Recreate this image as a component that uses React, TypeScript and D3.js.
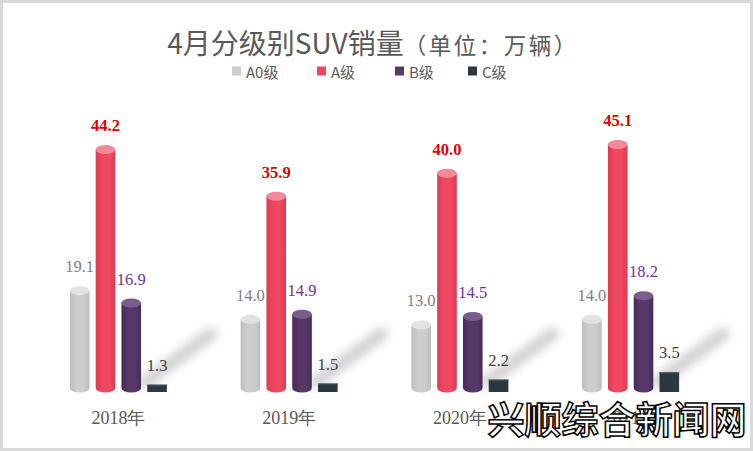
import React, { useLayoutEffect } from "react";
import * as d3 from "d3";

const years = ["2018年", "2019年", "2020年", "2021年"];
const seriesNames = ["A0级", "A级", "B级", "C级"];
const valuesA0 = [19.1, 14.0, 13.0, 14.0];
const valuesA = [44.2, 35.9, 40.0, 45.1];
const valuesB = [16.9, 14.9, 14.5, 18.2];
const valuesC = [1.3, 1.5, 2.2, 3.5];
const titleMain = "4月分级别SUV销量";
const titleUnit = "（单位：万辆）";
const watermark = "兴顺综合新闻网";

const seriesValues = [valuesA0, valuesA, valuesB, valuesC];
const barColors = ["#cdcdcd", "#ef4862", "#583868", "#29393f"];
const barEdge = ["#bdbdbd", "#dc3a53", "#47295a", "#1f2d33"];
const capColors = ["#e2e2e2", "#f4899a", "#7b5d8c", "#3b4d54"];
const labelColors = ["#7f7f7f", "#e00000", "#7030a0", "#404040"];
const legendX = [232, 317, 395, 468];

const W = 753;
const H = 451;

export default function App() {
  useLayoutEffect(() => {
    document.body.style.margin = "0";
  }, []);

  const x0 = d3.scaleBand<string>().domain(years).range([33, 716]).paddingInner(0.432).paddingOuter(0.216);
  const x1 = d3.scaleBand<string>().domain(seriesNames).range([0, x0.bandwidth()]).paddingInner(0.24).paddingOuter(0);
  const y = d3.scaleLinear().domain([0, 50]).range([392, 111]);
  const bw = x1.bandwidth();
  const rx = bw / 2;
  const ry = 4.5;
  const floorY = 388;

  return (
    <svg width={W} height={H} style={{ display: "block", background: "#fff" }} xmlns="http://www.w3.org/2000/svg">
      <defs>
        <filter id="blur" x="-50%" y="-50%" width="200%" height="200%">
          <feGaussianBlur stdDeviation="5" />
        </filter>
        {barColors.map((c, i) => (
          <linearGradient key={i} id={`g${i}`} x1="0" x2="1" y1="0" y2="0">
            <stop offset="0" stopColor={barEdge[i]} />
            <stop offset="0.35" stopColor={c} />
            <stop offset="0.7" stopColor={c} />
            <stop offset="1" stopColor={barEdge[i]} />
          </linearGradient>
        ))}
      </defs>
      <rect x={1.5} y={1.5} width={W - 3} height={H - 3} fill="#fff" stroke="#d9d9d9" strokeWidth={3} />

      <text x={373} y={54} textAnchor="middle" fill="#595959" fontFamily="'Noto Sans CJK SC', 'Noto Sans', sans-serif">
        <tspan fontSize={28}>{titleMain}</tspan>
        <tspan fontSize={22.5} letterSpacing={2.5}>{titleUnit}</tspan>
      </text>

      {seriesNames.map((s, i) => (
        <g key={s}>
          <rect x={legendX[i]} y={66.5} width={9} height={9} fill={barColors[i]} />
          <text x={legendX[i] + 14} y={78} fontSize={15} fill="#595959" fontFamily="'Noto Sans CJK SC', 'Noto Sans', sans-serif">
            {s}
          </text>
        </g>
      ))}

      {years.map((yr) => {
        const gx = x0(yr)!;
        const cx = gx + x1(seriesNames[3])!;
        const base = 392;
        return (
          <path
            key={yr}
            d={`M${cx - 2},${base - 10} L${cx + bw + 44},${base - 58}`}
            stroke="#8c8c8c"
            strokeWidth={13}
            strokeLinecap="round"
            opacity={0.4}
            filter="url(#blur)"
          />
        );
      })}

      {years.map((yr, gi) => {
        const gx = x0(yr)!;
        return (
          <g key={yr}>
            {seriesNames.map((s, si) => {
              const v = seriesValues[si][gi];
              const bx = gx + x1(s)!;
              const cxm = bx + rx;
              if (si === 3) {
                const top = y(v);
                return (
                  <g key={s}>
                    <rect x={bx} y={top} width={bw} height={392 - top} fill={barColors[si]} />
                    <rect x={bx} y={top} width={bw} height={1.5} fill={capColors[si]} />
                    <text x={cxm} y={top - 14} textAnchor="middle" fontSize={16.5} fill={labelColors[si]} fontFamily="'Liberation Serif', serif">
                      {v.toFixed(1)}
                    </text>
                  </g>
                );
              }
              const capC = y(v) + 6;
              return (
                <g key={s}>
                  <path
                    d={`M${bx},${capC} L${bx},${floorY} A${rx},${ry} 0 0 0 ${bx + bw},${floorY} L${bx + bw},${capC} Z`}
                    fill={`url(#g${si})`}
                  />
                  <ellipse cx={cxm} cy={capC} rx={rx} ry={ry} fill={capColors[si]} />
                  <text
                    x={cxm}
                    y={capC - ry - 14}
                    textAnchor="middle"
                    fontSize={16.5}
                    fontWeight={si === 1 ? "bold" : "normal"}
                    fill={labelColors[si]}
                    fontFamily="'Liberation Serif', serif"
                  >
                    {v.toFixed(1)}
                  </text>
                </g>
              );
            })}
            <text x={gx + x0.bandwidth() / 2} y={424} textAnchor="middle" fontSize={18} fill="#595959" fontFamily="'Liberation Serif', serif">
              {yr}
            </text>
          </g>
        );
      })}

      <text
        x={617}
        y={434}
        textAnchor="middle"
        fontSize={37}
        fontWeight="bold"
        fill="#fff"
        stroke="#000"
        strokeWidth={1.5}
        fontFamily="'Noto Sans CJK SC', sans-serif"
      >
        {watermark}
      </text>
    </svg>
  );
}
